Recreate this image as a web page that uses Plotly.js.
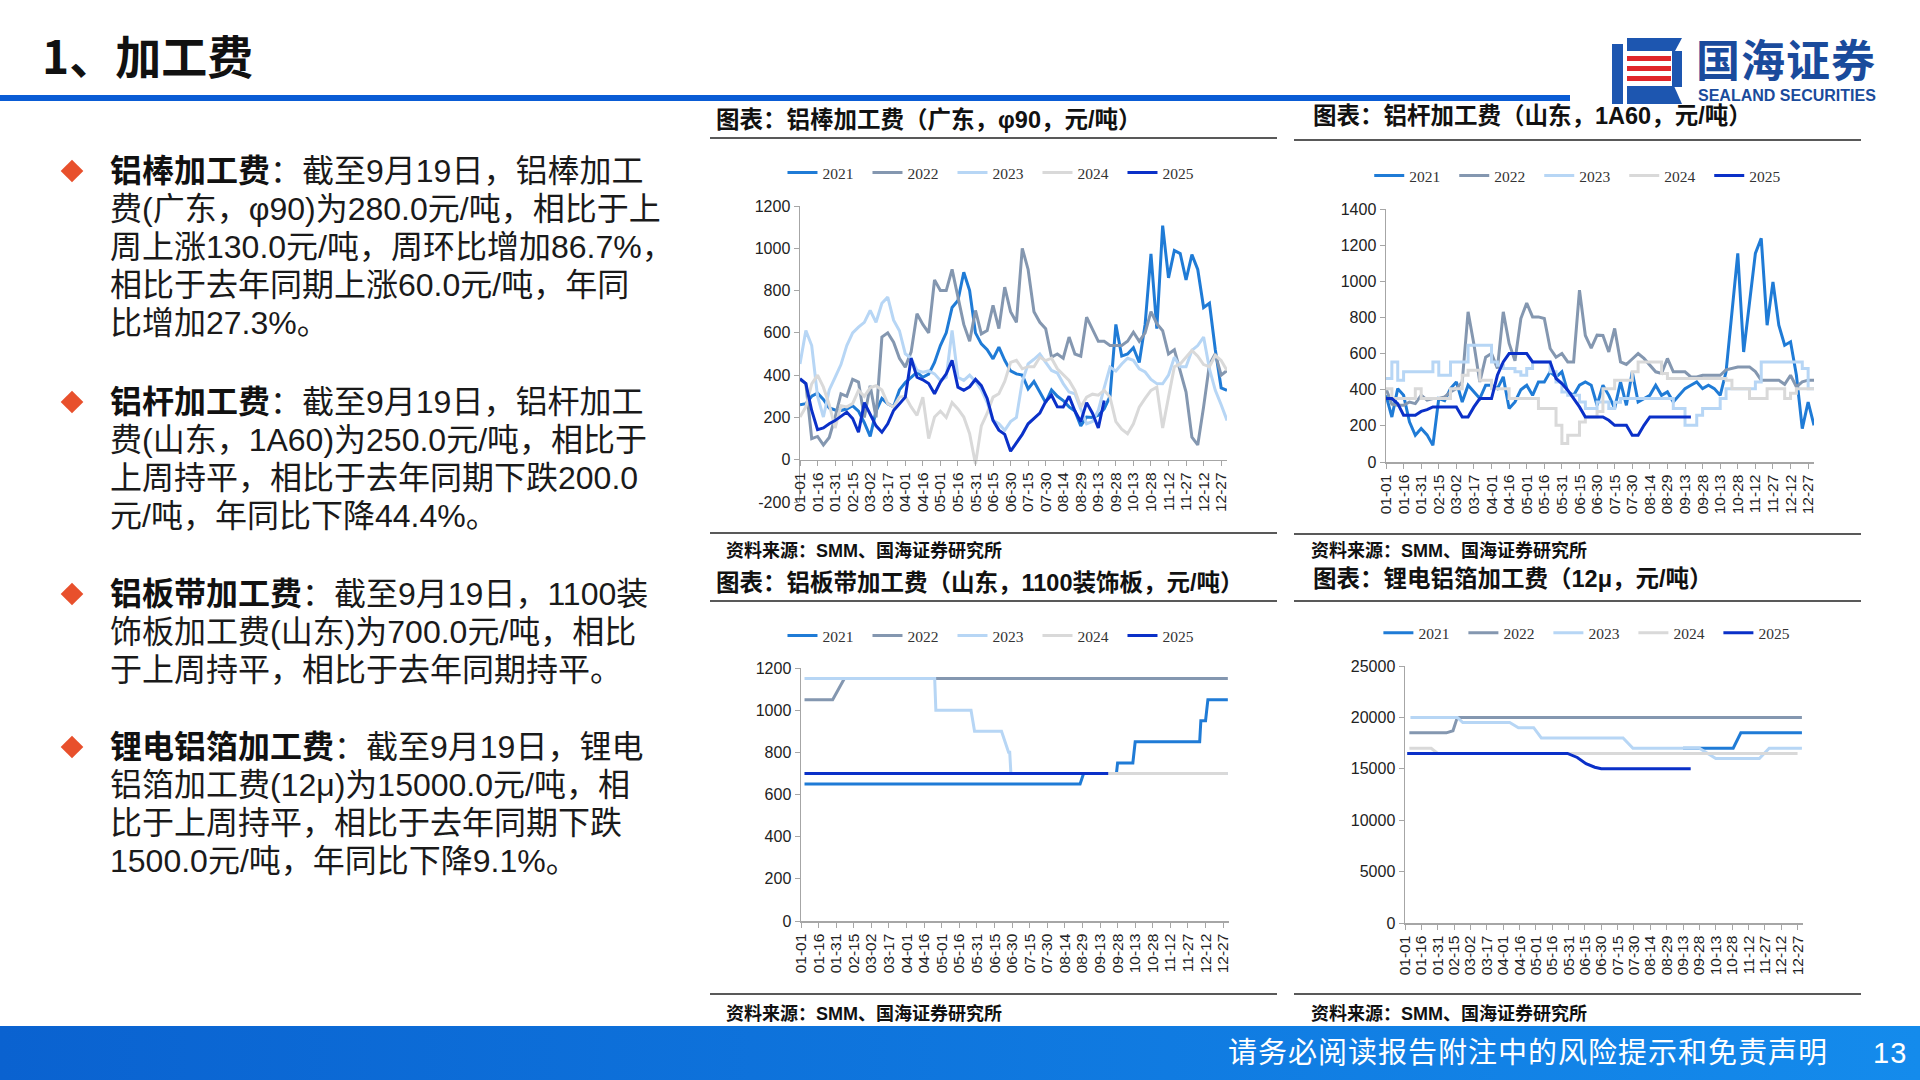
<!DOCTYPE html>
<html><head><meta charset="utf-8">
<script src="https://cdn.plot.ly/plotly-3.0.1.min.js"></script>
<style>
html,body{margin:0;padding:0}
body{width:1920px;height:1080px;overflow:hidden;background:#fff;position:relative;font-family:"Liberation Sans","Noto Sans CJK SC",sans-serif}
.abs{position:absolute}
#title{left:42px;top:24px;font-size:46px;font-weight:700;color:#111;line-height:60px;white-space:nowrap;font-family:"Noto Sans CJK SC",sans-serif}
#hline{left:0;top:95px;width:1570px;height:6px;background:#0a5cd5}
.ln{left:110px;font-size:32px;line-height:38px;height:38px;color:#1a1a1a;white-space:nowrap;font-family:"Liberation Sans","Noto Sans CJK SC",sans-serif}
.ln b{font-weight:700;color:#111}
.dia{width:16px;height:16px;background:#e8502c;transform:rotate(45deg)}
.ctitle{font-size:23.5px;font-weight:700;color:#111;white-space:nowrap;line-height:30px;font-family:"Liberation Sans","Noto Sans CJK SC",sans-serif}
.rule{height:2px;background:#595959}
.src{font-size:18px;font-weight:700;color:#111;white-space:nowrap;line-height:24px;font-family:"Liberation Sans","Noto Sans CJK SC",sans-serif}
#footer{left:0;top:1026px;width:1920px;height:54px;background:linear-gradient(90deg,#0a62d0,#148bec)}
.ftxt{color:#fff;font-size:29px;line-height:54px;white-space:nowrap;letter-spacing:1px;font-family:"Liberation Sans","Noto Sans CJK SC",sans-serif}
.logo1{left:1696px;top:34px;font-size:44px;font-weight:700;color:#1a4b9c;line-height:48px;white-space:nowrap;letter-spacing:1px;font-family:"Noto Sans CJK SC",sans-serif}
.logo2{left:1698px;top:87px;font-size:16px;font-weight:700;color:#1a4b9c;line-height:17px;white-space:nowrap;font-family:"Liberation Sans",Arial,sans-serif}
.chart{position:absolute}
</style>
</head>
<body>
<div id="title" class="abs">1、加工费</div>
<div id="hline" class="abs"></div>
<svg class="abs" style="left:1612px;top:36px" width="72" height="70" viewBox="0 0 72 70">
  <rect x="0" y="8" width="11" height="60" fill="#1d56b0"/>
  <polygon points="15,2 70,2 63,15 15,15" fill="#1d56b0"/>
  <rect x="15" y="20" width="44" height="5" fill="#e0262b"/>
  <rect x="15" y="30" width="44" height="5" fill="#e0262b"/>
  <rect x="15" y="40" width="44" height="5" fill="#e0262b"/>
  <rect x="60" y="15" width="10" height="36" fill="#1d56b0"/>
  <polygon points="15,50 62,50 70,68 15,68" fill="#1d56b0"/>
</svg>
<div class="abs logo1">国海证券</div>
<div class="abs logo2">SEALAND SECURITIES</div>

<div class="abs dia" style="left:64px;top:163px"></div>
<div class="abs ln" style="top:152px"><b>铝棒加工费</b>：截至9月19日，铝棒加工</div>
<div class="abs ln" style="top:190px">费(广东，φ90)为280.0元/吨，相比于上</div>
<div class="abs ln" style="top:228px">周上涨130.0元/吨，周环比增加86.7%，</div>
<div class="abs ln" style="top:266px">相比于去年同期上涨60.0元/吨，年同</div>
<div class="abs ln" style="top:304px">比增加27.3%。</div>

<div class="abs dia" style="left:64px;top:394px"></div>
<div class="abs ln" style="top:383px"><b>铝杆加工费</b>：截至9月19日，铝杆加工</div>
<div class="abs ln" style="top:421px">费(山东，1A60)为250.0元/吨，相比于</div>
<div class="abs ln" style="top:459px">上周持平，相比于去年同期下跌200.0</div>
<div class="abs ln" style="top:497px">元/吨，年同比下降44.4%。</div>

<div class="abs dia" style="left:64px;top:586px"></div>
<div class="abs ln" style="top:575px"><b>铝板带加工费</b>：截至9月19日，1100装</div>
<div class="abs ln" style="top:613px">饰板加工费(山东)为700.0元/吨，相比</div>
<div class="abs ln" style="top:651px">于上周持平，相比于去年同期持平。</div>

<div class="abs dia" style="left:64px;top:739px"></div>
<div class="abs ln" style="top:728px"><b>锂电铝箔加工费</b>：截至9月19日，锂电</div>
<div class="abs ln" style="top:766px">铝箔加工费(12μ)为15000.0元/吨，相</div>
<div class="abs ln" style="top:804px">比于上周持平，相比于去年同期下跌</div>
<div class="abs ln" style="top:842px">1500.0元/吨，年同比下降9.1%。</div>

<div class="abs ctitle" style="left:716px;top:105px">图表：铝棒加工费（广东，φ90，元/吨）</div>
<div class="abs rule" style="left:710px;top:137px;width:567px"></div>
<div class="abs ctitle" style="left:1313px;top:101px">图表：铝杆加工费（山东，1A60，元/吨）</div>
<div class="abs rule" style="left:1294px;top:139px;width:567px"></div>
<div class="abs rule" style="left:710px;top:532px;width:567px"></div>
<div class="abs src" style="left:726px;top:539px">资料来源：SMM、国海证券研究所</div>
<div class="abs rule" style="left:1294px;top:533px;width:567px"></div>
<div class="abs src" style="left:1311px;top:539px">资料来源：SMM、国海证券研究所</div>

<div class="abs ctitle" style="left:716px;top:568px">图表：铝板带加工费（山东，1100装饰板，元/吨）</div>
<div class="abs rule" style="left:710px;top:600px;width:567px"></div>
<div class="abs ctitle" style="left:1313px;top:564px">图表：锂电铝箔加工费（12μ，元/吨）</div>
<div class="abs rule" style="left:1294px;top:600px;width:567px"></div>
<div class="abs rule" style="left:710px;top:993px;width:567px"></div>
<div class="abs src" style="left:726px;top:1002px">资料来源：SMM、国海证券研究所</div>
<div class="abs rule" style="left:1294px;top:993px;width:567px"></div>
<div class="abs src" style="left:1311px;top:1002px">资料来源：SMM、国海证券研究所</div>

<div id="c1" class="chart" style="left:700px;top:150px;width:580px;height:380px"></div>
<div id="c2" class="chart" style="left:1290px;top:150px;width:580px;height:380px"></div>
<div id="c3" class="chart" style="left:700px;top:610px;width:580px;height:390px"></div>
<div id="c4" class="chart" style="left:1290px;top:610px;width:580px;height:390px"></div>

<div id="footer" class="abs"></div>
<div class="abs ftxt" style="left:1228px;top:1026px">请务必阅读报告附注中的风险提示和免责声明</div>
<div class="abs ftxt" style="left:1873px;top:1026px">13</div>

<script>
// ---------- shared axis data ----------
const YEARS = ['2021','2022','2023','2024','2025'];
const TICK_DAYS = [0,15,30,45,60,75,90,105,120,135,150,165,180,195,210,225,240,255,270,285,300,315,330,345,360];
const TICK_TEXT = ['01-01','01-16','01-31','02-15','03-02','03-17','04-01','04-16','05-01','05-16','05-31','06-15','06-30','07-15','07-30','08-14','08-29','09-13','09-28','10-13','10-28','11-12','11-27','12-12','12-27'];
const DAY5 = [0,5,10,15,20,25,30,35,40,45,50,55,60,65,70,75,80,85,90,95,100,105,110,115,120,125,130,135,140,145,150,155,160,165,170,175,180,185,190,195,200,205,210,215,220,225,230,235,240,245,250,255,260,265,270,275,280,285,290,295,300,305,310,315,320,325,330,335,340,345,350,355,360,365];

// ---------- chart 1: 铝棒加工费 ----------
const c1_y_ticks = [-200,0,200,400,600,800,1000,1200];
const c1_y_text = ['-200','0','200','400','600','800','1000','1200'];
const c1_2021 = [260,265,300,315,285,245,235,233,240,255,
  230,175,110,230,290,265,250,330,365,390,
  414,390,405,460,540,600,720,753,887,800,
  600,548,520,477,532,470,420,406,400,335,
  370,320,270,330,300,280,250,230,160,202,
  200,210,240,300,640,490,500,530,460,640,
  973,620,1107,860,990,975,850,970,900,720,
  740,520,340,328];
const c1_2022 = [380,360,100,110,70,105,200,312,300,380,
  367,200,350,200,580,600,556,480,438,510,
  690,640,600,850,800,800,900,769,640,560,
  706,595,611,730,620,816,700,650,1000,900,
  700,650,620,485,500,480,580,500,490,674,
  620,560,560,540,540,540,560,603,560,600,
  700,643,610,500,520,420,320,107,70,250,
  450,501,400,422];
const c1_2023 = [453,611,540,300,202,330,390,450,540,600,
  627,650,706,650,740,769,660,610,501,480,
  422,414,420,406,375,390,611,390,375,400,
  370,330,270,186,170,139,180,200,370,453,
  475,500,460,422,410,360,320,312,240,170,
  180,233,340,438,420,453,480,470,430,415,
  380,360,359,400,485,440,440,517,540,580,
  430,328,260,186];
const c1_2024 = [202,250,359,400,343,260,150,255,250,265,
  328,300,340,350,330,265,249,296,300,250,
  210,296,100,202,230,200,270,240,202,123,
  -20,160,220,296,312,370,460,470,430,440,
  440,485,469,480,430,400,375,328,249,296,
  310,305,328,296,180,145,123,170,249,290,
  328,343,150,296,440,453,485,517,490,450,
  440,493,469,422];
const c1_2025 = [383,360,233,142,150,170,185,205,225,195,
  130,270,217,160,130,170,233,265,296,480,
  390,378,360,312,367,406,470,343,328,345,
  380,350,290,186,140,120,40,80,120,170,
  195,220,275,305,250,249,300,230,180,270,
  220,150,280];

// ---------- chart 2: 铝杆加工费 ----------
const c2_y_ticks = [0,200,400,600,800,1000,1200,1400];
const c2_2021 = [369,249,406,369,222,148,185,150,92,351,
  340,406,443,332,425,390,351,425,425,406,
  471,296,332,400,425,369,443,443,499,470,
  499,388,369,425,443,425,314,425,369,296,
  443,314,499,332,351,369,425,369,388,332,
  369,406,425,443,406,425,406,369,499,831,
  1154,609,887,1154,1238,757,997,757,646,665,
  480,185,332,203];
const c2_2022 = [406,320,314,314,332,323,370,342,351,351,
  360,388,406,443,831,650,443,580,600,517,
  831,656,560,794,880,803,803,794,628,580,
  600,554,554,951,700,630,702,700,609,739,
  554,540,570,600,573,536,499,490,573,499,
  499,499,471,471,480,480,480,480,510,517,
  526,526,526,500,453,453,453,453,430,480,
  416,443,453,453];
const c2_2023 = [462,554,453,499,499,499,499,499,554,480,
  480,554,554,554,646,646,646,646,554,536,
  517,517,499,480,517,554,554,554,500,443,
  388,369,369,332,296,296,332,332,296,330,
  351,351,351,351,351,351,351,351,351,296,
  296,203,203,259,296,296,296,351,406,406,
  406,406,406,443,554,554,554,554,554,554,
  554,517,406,406];
const c2_2024 = [406,351,351,351,351,406,351,351,351,351,
  351,406,406,480,508,508,453,453,406,406,
  406,351,351,351,351,351,296,296,296,203,
  102,148,148,222,249,249,280,406,406,453,
  453,453,499,554,554,554,554,490,462,462,
  462,462,462,462,462,462,462,462,453,406,
  406,406,351,351,351,406,406,406,351,380,
  406,406,406,406];
const c2_2025 = [351,351,323,259,259,259,280,290,305,305,
  305,305,305,249,249,305,351,351,351,480,
  554,600,600,600,600,554,554,554,554,462,
  434,397,351,305,249,249,249,249,231,203,
  203,203,148,148,203,249,249,249,249,249,
  249,249,249];

// ---------- chart 3: 铝板带加工费 (step points: day, value) ----------
const c3_y_ticks = [0,200,400,600,800,1000,1200];
const c3_2021_x = [3,238,241,269,270,283,285,340,341,345,347,364];
const c3_2021_y = [650,650,700,700,750,750,850,850,950,950,1050,1050];
const c3_2022_x = [3,27,37,364];
const c3_2022_y = [1050,1050,1150,1150];
const c3_2023_x = [3,114,115,145,148,171,177,178,179,364];
const c3_2023_y = [1150,1150,1000,1000,900,900,800,800,700,700];
const c3_2024_x = [3,364];
const c3_2024_y = [700,700];
const c3_2025_x = [3,262];
const c3_2025_y = [700,700];

// ---------- chart 4: 锂电铝箔加工费 ----------
const c4_y_ticks = [0,5000,10000,15000,20000,25000];
const c4_2021_x = [255,301,308,364];
const c4_2021_y = [17000,17000,18500,18500];
const c4_2022_x = [4,38,44,48,364];
const c4_2022_y = [18500,18500,18700,20000,20000];
const c4_2023_x = [5,48,53,96,104,118,125,200,209,270,285,325,334,364];
const c4_2023_y = [20000,20000,19500,19500,19000,19000,18000,18000,17000,17000,16000,16000,17000,17000];
const c4_2024_x = [4,24,30,360];
const c4_2024_y = [17000,17000,16500,16500];
const c4_2025_x = [2,149,158,166,174,180,262];
const c4_2025_y = [16500,16500,16100,15500,15150,15000,15000];

// ---------- styles ----------
const COLORS = ['#1f7bd6','#8497b0','#b7d6f5','#d9d9d9','#0a30c8'];
const LINE_W = 3;
const AXIS_COLOR = '#a6a6a6';
const TICK_FONT = {family:'Liberation Sans, Arial, sans-serif', size:15.5, color:'#222'};

function mkTraces(xs, ys, shapes){
  return ys.map((y,i)=>({
    x: xs[i] || DAY5.slice(0, y.length),
    y: y, type:'scatter', mode:'lines', name: YEARS[i],
    line:{color: COLORS[i], width: LINE_W, shape: (shapes && shapes[i]) || 'linear'},
    hoverinfo:'skip'
  }));
}

function draw(id, traces, o){
  const xaxis = {range:[0,365], tickmode:'array', tickvals:TICK_DAYS, ticktext:TICK_TEXT, tickangle:-90,
    showline:true, linecolor:AXIS_COLOR, linewidth:1.5, ticks:'outside', ticklen:5, tickcolor:AXIS_COLOR,
    showgrid:false, zeroline:false, tickfont:TICK_FONT, fixedrange:true, automargin:false};
  if (o.xpos !== undefined){ xaxis.anchor='free'; xaxis.position=o.xpos; }
  const yaxis = {range:o.yr, tickmode:'array', tickvals:o.yt, ticktext:o.ytt || o.yt.map(String),
    showline:true, linecolor:AXIS_COLOR, linewidth:1.5, ticks:'outside', ticklen:5, tickcolor:AXIS_COLOR,
    showgrid:false, zeroline:false, tickfont:{family:TICK_FONT.family, size:16, color:'#222'}, fixedrange:true, automargin:false};
  const m = Object.assign({pad:0, autoexpand:false}, o.m);
  const legend = Object.assign({orientation:'h', xref:'container', yref:'container', x:o.lx, y:o.ly,
      xanchor:'center', yanchor:'middle', traceorder:'normal',
      font:{family:'Liberation Serif, Times New Roman, serif', size:15.5, color:'#333'}, itemwidth:30,
      entrywidth:40, entrywidthmode:'pixels', bgcolor:'rgba(0,0,0,0)'}, o.leg || {});
  const layout = {width:o.w, height:o.h, margin:m, paper_bgcolor:'rgba(0,0,0,0)', plot_bgcolor:'rgba(0,0,0,0)',
    showlegend:true, legend:legend, xaxis:xaxis, yaxis:yaxis};
  Plotly.newPlot(id, traces, layout, {staticPlot:true, displayModeBar:false});
}

draw('c1', mkTraces([], [c1_2021,c1_2022,c1_2023,c1_2024,c1_2025]),
  {w:580, h:380, m:{l:100, r:53, t:56, b:28}, yr:[-200,1200], yt:c1_y_ticks, ytt:c1_y_text,
   xpos:200/1400, lx:0.5086, ly:0.9395});

draw('c2', mkTraces([], [c2_2021,c2_2022,c2_2023,c2_2024,c2_2025], ['linear','linear','hv','hv','linear']),
  {w:580, h:380, m:{l:96, r:56, t:59, b:68}, yr:[0,1400], yt:c2_y_ticks, lx:0.503, ly:0.9316});

draw('c3', mkTraces([c3_2021_x,c3_2022_x,c3_2023_x,c3_2024_x,c3_2025_x],
  [c3_2021_y,c3_2022_y,c3_2023_y,c3_2024_y,c3_2025_y]),
  {w:580, h:390, m:{l:101, r:51, t:58, b:79}, yr:[0,1200], yt:c3_y_ticks, lx:0.5086, ly:0.9333});

draw('c4', mkTraces([c4_2021_x,c4_2022_x,c4_2023_x,c4_2024_x,c4_2025_x],
  [c4_2021_y,c4_2022_y,c4_2023_y,c4_2024_y,c4_2025_y]),
  {w:580, h:390, m:{l:115, r:67, t:56, b:77}, yr:[0,25000], yt:c4_y_ticks,
   leg:{xref:'paper', yref:'paper', x:1.001, xanchor:'right', y:1.128, yanchor:'middle'}});
</script>
</body></html>
